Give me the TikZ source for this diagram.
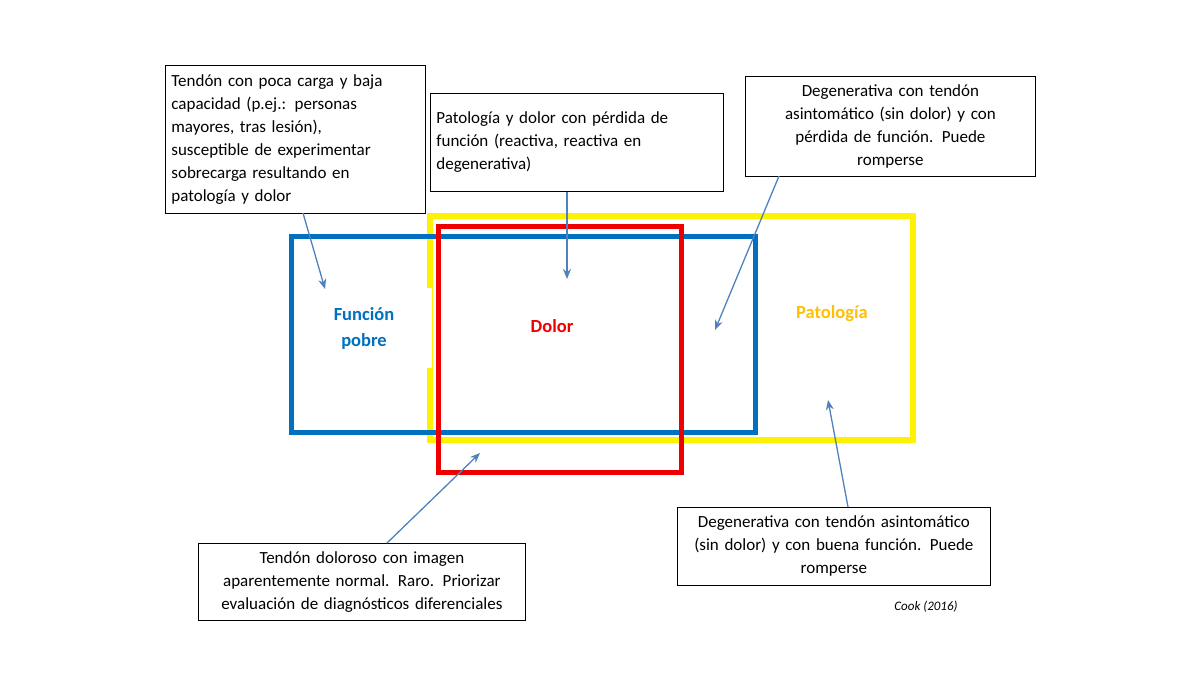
\documentclass[tikz,border=0pt]{standalone}
\usepackage{fontspec}
\setmainfont{Carlito}
\usetikzlibrary{arrows.meta}
\begin{document}
\begin{tikzpicture}[x=1pt,y=-1pt,
every node/.style={font=\fontsize{17}{23}\selectfont},
note/.style={draw,line width=0.8pt,fill=white,inner sep=0pt,anchor=north west},
lbl/.style={font=\fontsize{18.5}{26}\selectfont\bfseries,align=center},
arw/.style={-{Stealth[length=10pt,width=8pt]},line width=1.3pt,draw={rgb,255:red,79;green,129;blue,189}}
]
\useasboundingbox (0,0) rectangle (1200,675);
% sets
\draw[line width=6pt,draw={rgb,255:red,255;green,242;blue,0}] (430,216) rectangle (913,440);
\node[lbl,fill=white,minimum width=136,minimum height=80,text={rgb,255:red,0;green,112;blue,192}] (fp) at (364,328) {Función\\pobre};
\draw[line width=5pt,draw={rgb,255:red,0;green,112;blue,192}] (291,236) rectangle (755,432);
\draw[line width=5pt,draw={rgb,255:red,238;green,0;blue,0}] (438,226) rectangle (681,472);
\node[lbl,text={rgb,255:red,238;green,0;blue,0}] (dl) at (552,326) {Dolor};
\node[lbl,text={rgb,255:red,255;green,192;blue,0}] (pt) at (832,314) {Patología};
% notes
\node[note,align=left,minimum width=260,minimum height=148,text width=248] (n1) at (165,65) {Tendón con poca carga y baja\\capacidad (p.ej.: personas\\mayores, tras lesión),\\susceptible de experimentar\\sobrecarga resultando en\\patología y dolor};
\node[note,align=left,minimum width=293,minimum height=98,text width=281] (n2) at (430,93) {Patología y dolor con pérdida de\\función (reactiva, reactiva en\\degenerativa)};
\node[note,align=center,minimum width=290,minimum height=100,text width=280] (n3) at (745,76) {Degenerativa con tendón\\asintomático (sin dolor) y con\\pérdida de función. Puede\\romperse};
\node[note,align=center,minimum width=313,minimum height=78,text width=303] (n4) at (677,507) {Degenerativa con tendón asintomático\\(sin dolor) y con buena función. Puede\\romperse};
\node[note,align=center,minimum width=327,minimum height=77,text width=317] (n5) at (198,543) {Tendón doloroso con imagen\\aparentemente normal. Raro. Priorizar\\evaluación de diagnósticos diferenciales};
\node[font=\fontsize{13}{15}\selectfont\itshape] (ck) at (926,607) {Cook (2016)};
% arrow targets
\coordinate (t1) at (325,289);
\coordinate (t2) at (567,279);
\coordinate (t3) at (715,330);
\coordinate (t4) at (828,400);
\coordinate (t5) at (480,453);
\draw[arw](303,213)--(t1);
\draw[arw](n2.south -| t2)--(t2);
\draw[arw](779,176)--(t3);
\draw[arw](848,507)--(t4);
\draw[arw](387,543)--(t5);
\end{tikzpicture}
\end{document}
